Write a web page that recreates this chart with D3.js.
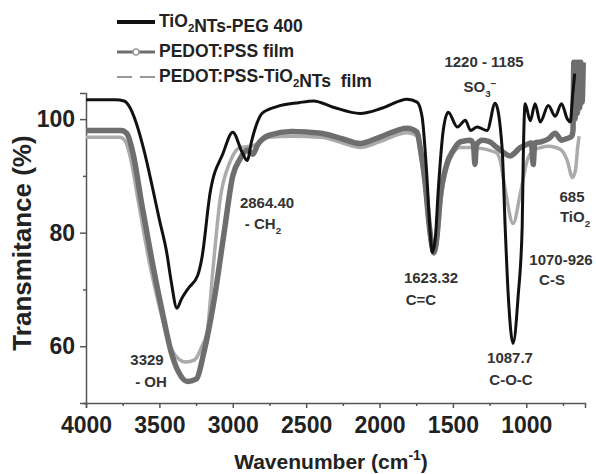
<!DOCTYPE html>
<html>
<head>
<meta charset="utf-8">
<script src="https://cdn.jsdelivr.net/npm/d3@7"></script>
<style>
  body { margin: 0; background: #fff; }
  text { font-family: "Liberation Sans", Arial, sans-serif; font-weight: bold; white-space: pre; }
</style>
</head>
<body>
<div id="chart"></div>
<script>
// spectra: [wavenumber (cm-1), transmitance (%)]
const pegSeries = [
  [4000, 103.4], [3800, 103.4], [3740, 103.2], [3700, 102], [3660, 99.5], [3600, 94],
  [3550, 88.3], [3500, 82.3], [3450, 76.5], [3420, 71.5], [3380, 66.7], [3350, 68.3],
  [3300, 70.3], [3240, 72.4], [3210, 75.6], [3155, 86.9], [3066, 94], [3000, 97.7],
  [2937, 94.2], [2902, 92.7], [2870, 96.3], [2800, 101], [2700, 102.2], [2550, 102.9],
  [2450, 103.2], [2316, 102.1], [2132, 101], [1975, 102], [1812, 103.5], [1744, 103],
  [1710, 100.4], [1680, 91], [1655, 80], [1640, 76.5], [1620, 79], [1600, 87.4],
  [1566, 98], [1532, 101.2], [1470, 98.6], [1415, 99.8], [1380, 98], [1335, 98.6],
  [1267, 98], [1212, 102.8], [1165, 95], [1144, 81], [1123, 69], [1090, 60.5],
  [1055, 69], [1028, 81], [1021, 92.7], [1008, 102.7], [973, 99.7], [940, 102.7],
  [905, 99.5], [850, 102.4], [803, 100.5], [760, 102.7], [720, 100], [700, 99.5],
  [685, 104], [670, 108]
];
const pedotSeries = [
  [4000, 98], [3760, 98], [3720, 97.4], [3680, 94], [3620, 85], [3550, 75],
  [3480, 66], [3420, 59], [3370, 55.5], [3310, 53.8], [3250, 54.2], [3196, 59],
  [3128, 68], [3059, 80], [3000, 90], [2950, 93], [2900, 94.5], [2864, 93.8],
  [2830, 95.5], [2750, 97.2], [2600, 97.8], [2400, 97.5], [2250, 96.5], [2132, 95.7],
  [2000, 96.8], [1812, 98.4], [1744, 97.7], [1723, 95], [1690, 89], [1660, 81],
  [1630, 76.5], [1610, 79], [1587, 86], [1540, 92.2], [1498, 94.5], [1450, 96],
  [1380, 96.3], [1360, 95.5], [1350, 92], [1340, 95.5], [1300, 96.3], [1250, 96],
  [1200, 95], [1150, 94], [1110, 93.5], [1080, 94], [1050, 94.8], [1000, 95.5],
  [965, 95.8], [953, 92], [942, 95.8], [900, 96], [850, 96.5], [803, 97.5],
  [760, 96.3], [720, 96.6], [690, 97], [682, 98], [676, 110], [668, 100],
  [660, 110], [652, 101], [644, 110], [636, 102], [628, 110], [620, 103], [612, 110]
];
const hybridSeries = [
  [4000, 96.8], [3770, 96.8], [3730, 96], [3700, 93.5], [3640, 85], [3570, 75],
  [3500, 67], [3440, 61], [3380, 58], [3320, 57.2], [3260, 57.6], [3210, 60],
  [3175, 62.5], [3134, 73.8], [3087, 85.7], [3018, 92.5], [2950, 95], [2864, 95.3],
  [2750, 96.8], [2600, 97], [2400, 96.8], [2250, 95.8], [2132, 95], [2000, 96],
  [1812, 97.6], [1744, 97], [1723, 94], [1690, 88], [1660, 80], [1630, 76.2],
  [1605, 79], [1580, 86], [1540, 91.5], [1498, 94], [1450, 95], [1380, 95],
  [1300, 94.8], [1250, 94.5], [1200, 94], [1178, 92.7], [1140, 87], [1090, 81.6],
  [1040, 87], [994, 92.7], [950, 94.5], [900, 95], [850, 95.2], [800, 95],
  [760, 94.5], [721, 92.7], [685, 89.7], [665, 91], [650, 95], [640, 97]
];

const xTicks = [4000, 3500, 3000, 2500, 2000, 1500, 1000];
const xMinorTicks = [3750, 3250, 2750, 2250, 1750, 1250, 750];
const yTicks = [60, 80, 100];
const yMinorTicks = [50, 70, 90];

const legendNames = ['TiO2NTs-PEG 400', 'PEDOT:PSS film', 'PEDOT:PSS-TiO2NTs  film'];

// peak labels: [wavenumber text, group text]
const peakLabels = [
  ['3329', '- OH'],
  ['2864.40', '- CH2'],
  ['1623.32', 'C=C'],
  ['1220 - 1185', 'SO3-'],
  ['1087.7', 'C-O-C'],
  ['1070-926', 'C-S'],
  ['685', 'TiO2']
];

const width = 596;
const height = 474;

const svg = d3.select('#chart')
  .append('svg')
  .attr('width', width)
  .attr('height', height);

const x = d3.scaleLinear()
  .domain([4000, 600])
  .range([86, 585]);

const y = d3.scaleLinear()
  .domain([50, 104.6])
  .range([403, 93]);

const line = d3.line()
  .x(d => x(d[0]))
  .y(d => y(d[1]))
  .curve(d3.curveMonotoneX);

// axes
const axisColor = '#555';
const xAxis = svg.append('g')
  .attr('transform', `translate(0,${y(50)})`)
  .call(d3.axisBottom(x).tickValues(xTicks).tickSize(5).tickPadding(9).tickFormat(d3.format('d')));
svg.append('g')
  .attr('transform', `translate(0,${y(50)})`)
  .call(d3.axisBottom(x).tickValues(xMinorTicks).tickSize(3).tickFormat(''))
  .select('.domain').remove();

const yAxis = svg.append('g')
  .attr('transform', `translate(${x(4000)},0)`)
  .call(d3.axisLeft(y).tickValues(yTicks).tickSize(6).tickPadding(5));
svg.append('g')
  .attr('transform', `translate(${x(4000)},0)`)
  .call(d3.axisLeft(y).tickValues(yMinorTicks).tickSize(3).tickFormat(''))
  .select('.domain').remove();

svg.selectAll('.domain, .tick line')
  .attr('stroke', axisColor)
  .attr('stroke-width', 1.5);

xAxis.selectAll('text')
  .attr('font-size', 23)
  .attr('fill', '#222');
yAxis.selectAll('text')
  .attr('font-size', 23)
  .attr('fill', '#222');

// spectra
svg.append('path')
  .datum(hybridSeries)
  .attr('d', line)
  .attr('fill', 'none')
  .attr('stroke', '#ababab')
  .attr('stroke-width', 3.5);

svg.append('path')
  .datum(pedotSeries)
  .attr('d', line)
  .attr('fill', 'none')
  .attr('stroke', '#6e6e6e')
  .attr('stroke-width', 5.5);

svg.append('path')
  .datum(pegSeries)
  .attr('d', line)
  .attr('fill', 'none')
  .attr('stroke', '#111')
  .attr('stroke-width', 3);

// axis titles
svg.append('text')
  .attr('transform', 'translate(31,243) rotate(-90)')
  .attr('text-anchor', 'middle')
  .attr('font-size', 26)
  .attr('fill', '#222')
  .text('Transmitance (%)');

const xTitle = svg.append('text')
  .attr('x', 331)
  .attr('y', 469)
  .attr('text-anchor', 'middle')
  .attr('font-size', 21)
  .attr('fill', '#222');
xTitle.append('tspan').text('Wavenumber (cm');
xTitle.append('tspan').attr('font-size', 14).attr('dy', -9).text('-1');
xTitle.append('tspan').attr('dy', 9).text(')');

// legend
const legendRows = [22, 52, 77];
const legend = svg.append('g');

legend.append('line')
  .attr('x1', 117).attr('x2', 155)
  .attr('y1', legendRows[0]).attr('y2', legendRows[0])
  .attr('stroke', '#111').attr('stroke-width', 4);
legend.append('line')
  .attr('x1', 117).attr('x2', 155)
  .attr('y1', legendRows[1]).attr('y2', legendRows[1])
  .attr('stroke', '#6e6e6e').attr('stroke-width', 3);
legend.append('circle')
  .attr('cx', 136).attr('cy', legendRows[1]).attr('r', 3)
  .attr('fill', '#fff').attr('stroke', '#999').attr('stroke-width', 1.5);
legend.append('line')
  .attr('x1', 117).attr('x2', 155)
  .attr('y1', legendRows[2]).attr('y2', legendRows[2])
  .attr('stroke', '#999').attr('stroke-width', 2)
  .attr('stroke-dasharray', '15,8');

// writes a label, turning the "2"/"3" after O or H into a subscript and a trailing "-" into a superscript
function chemText(sel, str) {
  const parts = str.match(/(O2|H2|O3-|[^]+?(?=O2|H2|O3-|$))/g);
  parts.forEach(p => {
    if (p === 'O2' || p === 'H2') {
      sel.append('tspan').text(p[0]);
      sel.append('tspan').attr('font-size', '0.65em').attr('dy', 5).text('2');
      sel.append('tspan').attr('dy', -5).text('');
    } else if (p === 'O3-') {
      sel.append('tspan').text('O');
      sel.append('tspan').attr('font-size', '0.65em').attr('dy', 5).text('3');
      sel.append('tspan').attr('font-size', '0.65em').attr('dy', -10).text('−');
      sel.append('tspan').attr('dy', 5).text('');
    } else {
      sel.append('tspan').text(p);
    }
  });
}

legendNames.forEach((name, i) => {
  const t = legend.append('text')
    .attr('x', 159)
    .attr('y', legendRows[i] + 5)
    .attr('font-size', 17.5)
    .attr('fill', '#222');
  chemText(t, name);
});

// peak annotations, placed next to the band they name
const labelPos = [
  [147, 365, 151, 387],
  [267, 208, 263, 229],
  [431, 283, 421, 305],
  [484, 67, 480, 92],
  [510, 363, 511, 385],
  [561, 265, 552, 285],
  [572, 202, 575, 222]
];

peakLabels.forEach((lab, i) => {
  const p = labelPos[i];
  svg.append('text')
    .attr('x', p[0]).attr('y', p[1])
    .attr('text-anchor', 'middle')
    .attr('font-size', 15)
    .attr('fill', '#333')
    .text(lab[0]);
  const t = svg.append('text')
    .attr('x', p[2]).attr('y', p[3])
    .attr('text-anchor', 'middle')
    .attr('font-size', 15)
    .attr('fill', '#333');
  chemText(t, lab[1]);
});
</script>
</body>
</html>
